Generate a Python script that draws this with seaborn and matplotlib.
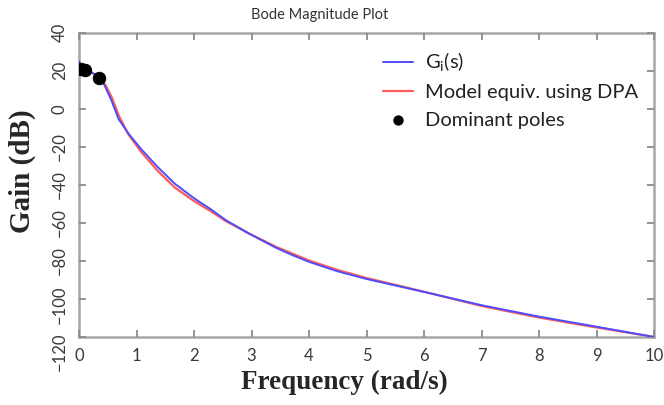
import numpy as np
import pandas as pd
import matplotlib
matplotlib.use("Agg")
import matplotlib.pyplot as plt
import matplotlib.transforms as mtransforms
import seaborn as sns

# values
freq_g = [0, 0.07, 0.22, 0.35, 0.45, 0.57, 0.69, 0.86, 1.09, 1.38, 1.67, 2.0,
          2.3, 2.55, 2.95, 3.42, 3.7, 4, 4.5, 5, 6, 7, 8, 9, 10]
gain_g = [25, 21, 19, 17, 12, 4, -5.5, -13, -21.5, -31, -39.5, -47,
          -53, -58.5, -65.5, -73, -76.8, -80.5, -85.5, -89.5, -96.3, -103.3, -109.3, -114.6, -120]

freq_m = [0.07, 0.22, 0.35, 0.45, 0.57, 0.69, 0.86, 1.09, 1.38, 1.67, 2.0,
          2.3, 2.55, 2.95, 3.42, 3.7, 4, 4.5, 5, 6, 7, 8, 9, 10]
gain_m = [21, 19, 17, 13, 6, -3.5, -13.5, -23, -33, -41.5, -48.5,
          -54, -59, -65.5, -72.5, -76, -79.8, -84.8, -89, -96.2, -103.7, -109.8, -115, -120]

pole_freq = [0.04, 0.1, 0.35]
pole_gain = [21, 20.5, 16.3]

x_ticks = list(range(0, 11))
y_ticks = [-120, -100, -80, -60, -40, -20, 0, 20, 40]

sns.set_theme(style="white", rc={"xtick.bottom": True, "ytick.left": True,
                                 "xtick.top": True, "ytick.right": True,
                                 "xtick.direction": "in", "ytick.direction": "in",
                                 "xtick.major.size": 5, "ytick.major.size": 5,
                                 "xtick.major.width": 1.3, "ytick.major.width": 1.3,
                                 "xtick.color": "#8c8c8c", "ytick.color": "#8c8c8c",
                                 "axes.axisbelow": False})
plt.rcParams['font.family'] = ['Lato', 'DejaVu Sans']

df_g = pd.DataFrame({"freq": freq_g, "gain": gain_g})
df_m = pd.DataFrame({"freq": freq_m, "gain": gain_m})
df_p = pd.DataFrame({"freq": pole_freq, "gain": pole_gain})

fig = plt.figure(figsize=(6.64, 4.05), dpi=100)
ax = fig.add_axes([0.119, 0.168, 0.866, 0.751])

sns.lineplot(data=df_m, x="freq", y="gain", ax=ax, color="#ff5a5a", lw=1.6,
             label="Model equiv. using DPA", zorder=2)
sns.lineplot(data=df_g, x="freq", y="gain", ax=ax, color="#4d4dff", lw=1.4,
             label=r"G$_\mathregular{i}$(s)", zorder=3)
sns.scatterplot(data=df_p, x="freq", y="gain", ax=ax, color="black", s=80,
                edgecolor="black", label="Dominant poles", zorder=4)

# put legend entries in reference order
h, l = ax.get_legend_handles_labels()
order = [1, 0, 2]
ax.legend([h[i] for i in order], [l[i] for i in order], loc="upper left",
          bbox_to_anchor=(0.497, 1.0), frameon=False, fontsize=14.5,
          labelspacing=0.5, handlelength=1.5, handletextpad=0.6,
          markerscale=0.75, labelcolor="#222222")

ax.set_xlim(0, 10)
ax.set_ylim(-120, 40)
ax.set_xticks(x_ticks)
ax.set_yticks(y_ticks)
ax.set_xlabel("")
ax.set_ylabel("")
ax.tick_params(labelsize=12, labelcolor="#3a3a3a", pad=8)
for lbl in ax.get_yticklabels():
    lbl.set_rotation(90)
    lbl.set_va("center")
# the lowest y labels sit a little lower in the reference
shift = {"-120": -15, "-100": -6}
for lbl in ax.get_yticklabels():
    txt = lbl.get_text().replace("\u2212", "-")
    if txt in shift:
        off = mtransforms.ScaledTranslation(0, shift[txt] / 100, fig.dpi_scale_trans)
        lbl.set_transform(lbl.get_transform() + off)
for sp in ax.spines.values():
    sp.set_color("#a6a6a6")
    sp.set_linewidth(1.8)

fig.text(0.482, 0.962, "Bode Magnitude Plot", fontsize=10.5, color="#333333",
         ha="center", va="center")
fig.text(0.518, 0.056, "Frequency (rad/s)", family="Liberation Serif",
         fontweight="bold", fontsize=19.5, ha="center", va="center")
fig.text(0.033, 0.578, "Gain (dB)", family="Liberation Serif", rotation=90,
         fontweight="bold", fontsize=21, ha="center", va="center")

fig.savefig("out.png", dpi=100)
